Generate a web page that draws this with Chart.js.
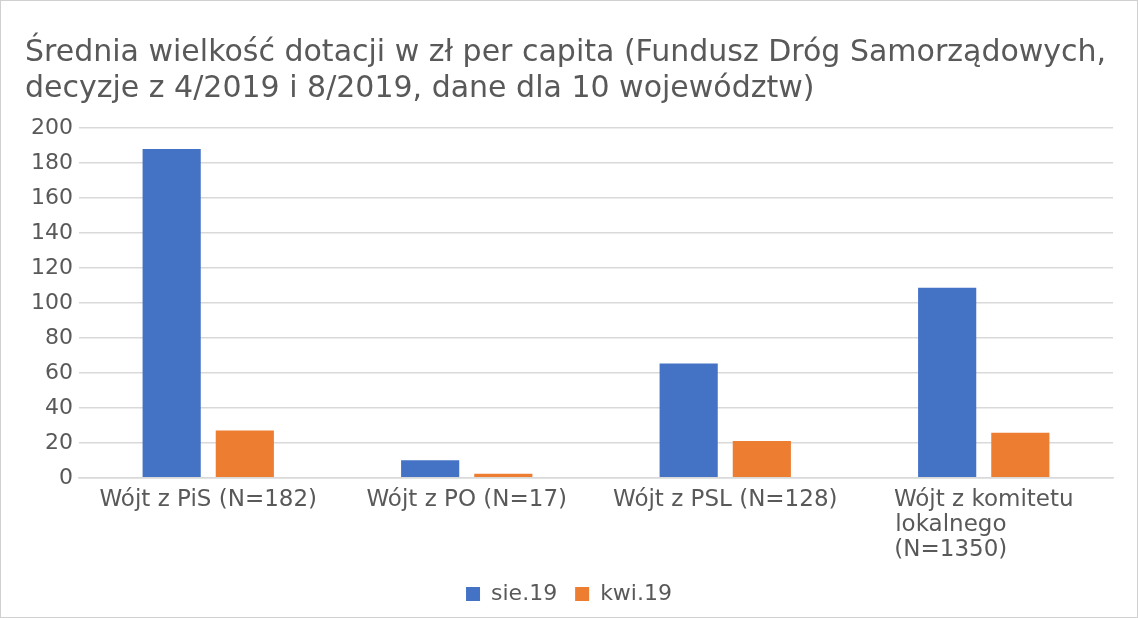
<!DOCTYPE html>
<html>
<head>
<meta charset="utf-8">
<script src="https://cdn.jsdelivr.net/npm/chart.js@4"></script>
<style>
  html, body { margin: 0; padding: 0; background: #fff; }
  #wrap { width: 1136px; height: 616px; border: 1px solid #d0d0d0; }
</style>
</head>
<body>
<div id="wrap"><canvas id="bar-chart" width="1136" height="616"></canvas></div>
<script>
const categories = [
    "Wójt z PiS (N=182)",
    "Wójt z PO (N=17)",
    "Wójt z PSL (N=128)",
    ["Wójt z komitetu", "lokalnego", "(N=1350)"]
];
const sie19 = [188, 10, 65.3, 108.6];
const kwi19 = [27, 2.3, 21.1, 25.7];
const yTicks = [0, 20, 40, 60, 80, 100, 120, 140, 160, 180, 200];

const textColor = "#595959";
const gridColor = "#d9d9d9";
const fontFamily = "'DejaVu Sans', sans-serif";
const labelSize = 23;
Chart.defaults.font.family = fontFamily;

// left-align the lines of a wrapped label by padding the shorter ones with spaces
const measure = document.createElement("canvas").getContext("2d");
measure.font = labelSize + "px " + fontFamily;
function leftAlign(lines) {
    if (!Array.isArray(lines)) return lines;
    const widest = Math.max(...lines.map(l => measure.measureText(l).width));
    return lines.map(l => {
        while (measure.measureText(l + " ").width <= widest + 2) l += " ";
        return l;
    });
}

new Chart(document.getElementById("bar-chart"), {
    type: 'bar',
    data: {
        labels: categories.map(leftAlign),
        datasets: [
            { label: "sie.19", backgroundColor: "#4472C4", data: sie19 },
            { label: "kwi.19", backgroundColor: "#ED7D31", data: kwi19 }
        ]
    },
    options: {
        responsive: false,
        animation: false,
        layout: { padding: { left: 24, right: 24, top: 0, bottom: 2 } },
        datasets: { bar: { categoryPercentage: 0.566, barPercentage: 0.795 } },
        plugins: {
            title: {
                display: true,
                align: 'start',
                text: ["Średnia wielkość dotacji w zł per capita (Fundusz Dróg Samorządowych,",
                       "decyzje z 4/2019 i 8/2019, dane dla 10 województw)"],
                color: textColor,
                font: { size: 30, weight: 'normal' },
                lineHeight: 1.35,
                padding: { top: 34, bottom: 21 }
            },
            legend: {
                position: 'bottom',
                labels: {
                    color: textColor,
                    font: { size: 22 },
                    boxWidth: 14,
                    boxHeight: 14,
                    padding: 18
                }
            },
            tooltip: { enabled: false }
        },
        scales: {
            x: {
                grid: { display: false },
                border: { color: gridColor, width: 1.5 },
                ticks: { color: textColor, font: { size: labelSize, lineHeight: 1.09 }, maxRotation: 0, autoSkip: false, padding: 2 }
            },
            y: {
                min: 0,
                max: 200,
                afterBuildTicks: axis => { axis.ticks = yTicks.map(v => ({ value: v })); },
                grid: { color: gridColor, lineWidth: 1.5, drawTicks: false },
                border: { display: false },
                ticks: { color: textColor, font: { size: 22 }, padding: 6 }
            }
        }
    }
});
</script>
</body>
</html>
